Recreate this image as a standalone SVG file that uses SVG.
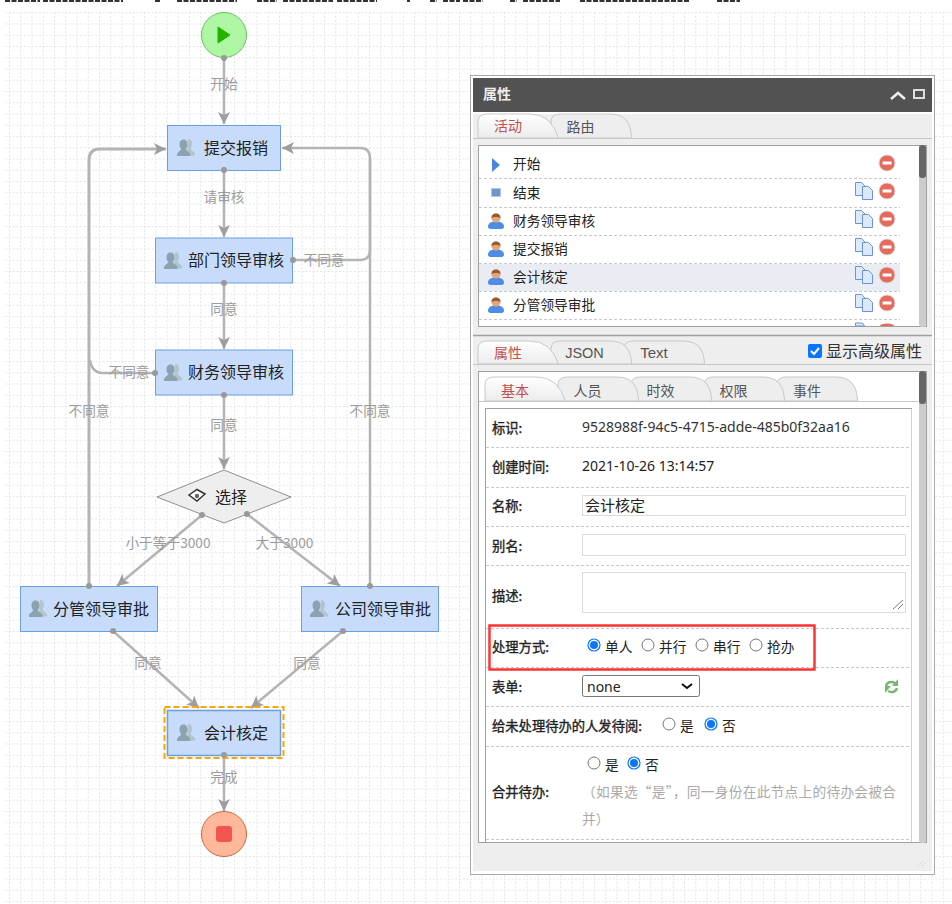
<svg xmlns="http://www.w3.org/2000/svg" width="952" height="904" viewBox="0 0 952 904">
<style>
text{font-family:"Liberation Sans","Noto Sans CJK SC",sans-serif;font-size:14px;fill:#222}
.cn{font-family:"Noto Sans CJK SC",sans-serif}
.node{fill:#c6dcfa;stroke:#6a9fe0;stroke-width:1}
.nt{font-size:16px;fill:#222;font-family:"Noto Sans CJK SC",sans-serif}
.el{font-size:13.7px;fill:#9c9c9c;font-family:"Noto Sans CJK SC",sans-serif;text-anchor:middle}
.conn{fill:none;stroke:#b4b4b4;stroke-width:2.5}
.dot{fill:#999}
.lab{font-size:13.3px;fill:#222;stroke:#222;stroke-width:.35;font-family:"Noto Sans CJK SC",sans-serif}
.li{font-size:13.7px;fill:#222;font-family:"Noto Sans CJK SC",sans-serif}
.sep{stroke:#c9c9c9;stroke-width:1;stroke-dasharray:3 2;fill:none}
.tab{fill:#eeeeee;stroke:#c8c8c8;stroke-width:1}
.tabA{fill:url(#tg);stroke:#c8c8c8;stroke-width:1}
.tt{font-size:14px;fill:#555;font-family:"Noto Sans CJK SC",sans-serif;text-anchor:middle}
.ta{font-size:14px;fill:#c0504d;font-family:"Noto Sans CJK SC",sans-serif;text-anchor:middle}
.inp{fill:#fff;stroke:#dcdcdc;stroke-width:1}
.r0{fill:#fff;stroke:#767676;stroke-width:1}
.r1{fill:#fff;stroke:#0a75ff;stroke-width:1.2}
.r2{fill:#0a75ff}
</style>
<defs>
<pattern id="grid" width="11.25" height="11.25" patternUnits="userSpaceOnUse" patternTransform="translate(9 1)">
<path d="M0 .5H11.25" stroke="#e4e4e4" stroke-width="1" stroke-dasharray="2 1.75"/>
<path d="M.5 0V11.25" stroke="#e4e4e4" stroke-width="1" stroke-dasharray="2 1.75"/>
</pattern>
<linearGradient id="tg" x1="0" y1="0" x2="0" y2="1"><stop offset="0" stop-color="#fff"/><stop offset="1" stop-color="#ececec"/></linearGradient>
<marker id="arr" markerUnits="userSpaceOnUse" markerWidth="13" markerHeight="13" refX="12" refY="6.500" orient="auto"><path d="M0 .5L12 6.500L0 12.500L3 6.500Z" fill="#9e9e9e"/></marker>
<g id="pp"><path d="M11 0c3 0 4 2 4 5 0 2-1 3.500-1.500 4.500 0 1.500 3.500 2.500 4.500 5v2H10z" fill="#b3c4cd"/><path d="M6.500 .5c3 0 4 2.500 4 5 0 2-1 3.500-1.700 4.500 0 1.500 3.700 2.500 4.700 5v2H0v-2c1-2.500 4.200-3.500 4.200-5C3.500 9 2.500 7.500 2.500 5.500c0-2.500 1-5 4-5z" fill="#8ba3af"/></g>
<g id="minus"><circle r="8" fill="#e66a5c" stroke="#dcd4d0" stroke-width="1"/><rect x="-4.500" y="-1.500" width="9" height="3" fill="#fff"/></g>
<g id="copy"><path d="M0 0h6l4 4v9H0z" fill="#dce9fb" stroke="#6a94d4"/><path d="M7 4h6l4 4v9H7z" fill="#dce9fb" stroke="#6a94d4"/></g>
<g id="user"><path d="M0 14c0-4 3-5.500 8-5.500s8 1.500 8 5.500c0 1.500-2 2-3 2H3c-1 0-3-.5-3-2z" fill="#4f8ce8"/><circle cx="8" cy="5" r="4.500" fill="#e0a878"/><path d="M3.500 5C3.500 1.500 6 .5 8 .5s4.500 1 4.500 4.500C11 3.500 5 3.500 3.500 5z" fill="#9a5a30"/></g>
</defs>
<rect width="952" height="904" fill="#fff"/>
<rect x="5" y="11" width="947" height="893" fill="url(#grid)"/>
<path id="clipped-line-remnant" d="M5 1H40M43 1H123M155 1H160M177 1H237M257 1H277M283 1H333M337 1H377M407 1H410M430 1H437M443 1H460M463 1H483M510 1H517M523 1H560M580 1H690M717 1H740" fill="none" stroke="#333" stroke-width="2" stroke-dasharray="5 1.500"/>

<g id="connectors">
<path class="conn" d="M224 58V124" marker-end="url(#arr)"/>
<path class="conn" d="M224 171V237" marker-end="url(#arr)"/>
<path class="conn" d="M224 283V349" marker-end="url(#arr)"/>
<path class="conn" d="M224 395V469" marker-end="url(#arr)"/>
<path class="conn" d="M293 260H360Q370 260 370 250V158Q370 148 360 148H282" marker-end="url(#arr)"/>
<path class="conn" d="M155 373H103Q92 373 90 360"/>
<path class="conn" style="stroke-width:3" d="M89 586V160Q89 149 100 149H166" marker-end="url(#arr)"/>
<path class="conn" d="M370 586V158"/>
<path class="conn" d="M202 515L117 586" marker-end="url(#arr)"/>
<path class="conn" d="M247 514L340 586" marker-end="url(#arr)"/>
<path class="conn" d="M113 631L199 708" marker-end="url(#arr)"/>
<path class="conn" d="M343 631L251 708" marker-end="url(#arr)"/>
<path class="conn" d="M224 755V811" marker-end="url(#arr)"/>
</g>

<g id="n-start"><circle cx="224" cy="35" r="22.500" fill="#aef5a4" stroke="#6cc063"/><path d="M218 27L230 35L218 43Z" fill="#24b300" stroke="#24b300"/></g>
<g id="n-submit"><rect class="node" x="167.500" y="125.500" width="113" height="45"/><use href="#pp" x="177" y="139"/><text class="nt" x="204" y="154">提交报销</text></g>
<g id="n-dept"><rect class="node" x="155.500" y="238" width="137" height="45"/><use href="#pp" x="164" y="252"/><text class="nt" x="188" y="266">部门领导审核</text></g>
<g id="n-fin"><rect class="node" x="155.500" y="350" width="137" height="45"/><use href="#pp" x="164" y="364"/><text class="nt" x="188" y="378">财务领导审核</text></g>
<g id="n-choice"><path d="M224 470L291 497L224 523L157 497Z" fill="#eeeeee" stroke="#8f8f8f"/><path d="M189 495L197 489.500L205 494L197 501Z" fill="#fff" stroke="#333" stroke-width="1.500"/><circle cx="197" cy="496" r="2.200" fill="#666"/><text class="nt" x="215" y="503">选择</text></g>
<g id="n-fg"><rect class="node" x="20.500" y="586.500" width="137" height="45"/><use href="#pp" x="29" y="600"/><text class="nt" x="53" y="615">分管领导审批</text></g>
<g id="n-gs"><rect class="node" x="301.500" y="586.500" width="137" height="45"/><use href="#pp" x="310" y="600"/><text class="nt" x="335" y="615">公司领导审批</text></g>
<g id="n-acc"><rect x="164.500" y="707" width="119" height="51" fill="none" stroke="#ffa500" stroke-width="2" stroke-dasharray="6 3"/><rect class="node" x="167.500" y="710.500" width="113" height="45" style="stroke-width:1.500"/><use href="#pp" x="177" y="724"/><text class="nt" x="204" y="739">会计核定</text></g>
<g id="n-end"><circle cx="224" cy="834" r="22.500" fill="#ffb899" stroke="#c8683c"/><rect x="216" y="826" width="16" height="16" rx="3" fill="#f2554f"/></g>

<g id="dots" class="dot">
<circle cx="224" cy="58" r="3"/><circle cx="224" cy="170" r="3"/><circle cx="224" cy="283" r="3"/><circle cx="224" cy="395" r="3"/><circle cx="293" cy="260" r="3"/><circle cx="155" cy="373" r="3"/><circle cx="89" cy="586" r="3"/><circle cx="370" cy="586" r="3"/><circle cx="202" cy="515" r="3"/><circle cx="247" cy="514" r="3"/><circle cx="113" cy="631" r="3"/><circle cx="343" cy="631" r="3"/><circle cx="224" cy="755" r="3"/>
</g>
<g id="edge-labels">
<text class="el" x="224" y="89">开始</text>
<text class="el" x="224" y="202">请审核</text>
<text class="el" x="324" y="265">不同意</text>
<text class="el" x="224" y="314">同意</text>
<text class="el" x="129" y="377">不同意</text>
<text class="el" x="89" y="416">不同意</text>
<text class="el" x="370" y="416">不同意</text>
<text class="el" x="224" y="430">同意</text>
<text class="el" x="168" y="548">小于等于3000</text>
<text class="el" x="284.500" y="548">大于3000</text>
<text class="el" x="148" y="668">同意</text>
<text class="el" x="307" y="668">同意</text>
<text class="el" x="224" y="782">完成</text>
</g>

<g id="panel">
<rect x="470.500" y="75.500" width="464" height="799" fill="#fff" stroke="#a8a8a8"/>
<rect x="473" y="78" width="459" height="793" fill="#eeeeee"/>
<rect x="473" y="78" width="459" height="34" fill="#525252"/>
<rect x="473" y="112" width="459" height="2" fill="#fff"/>
<text x="483" y="99" class="cn" style="font-size:14px;font-weight:700;fill:#eee">属性</text>
<path d="M891 99l7-6 7 6" fill="none" stroke="#eee" stroke-width="2.500"/>
<rect x="914" y="90" width="10" height="8" fill="none" stroke="#ddd" stroke-width="2"/>
<path d="M473 138.500H932" stroke="#c8c8c8" fill="none"/>
<path class="tab" d="M551 138V122Q551 114 560 114H610Q631 114 631.500 138Z"/>
<path class="tabA" d="M478 138V122Q478 114 487 114H530Q551 114 558.500 138Z"/>
<text class="ta" x="508" y="131">活动</text><text class="tt" x="580.500" y="132">路由</text>
<rect x="478.500" y="145.500" width="448" height="181" fill="#fff" stroke="#a0a0a0"/>
<rect x="479" y="264" width="421" height="27" fill="#e9ecf3"/>
<path class="sep" d="M479 178.500H900M479 207.500H900M479 235.500H900M479 263.500H900M479 291.500H900M479 319.500H900"/>
<path d="M492 158l8 7-8 7z" fill="#4a86e0"/><rect x="491.500" y="188.500" width="9" height="8" fill="#6d97cc" stroke="#b4c8e0"/>
<use href="#user" x="488" y="213"/><use href="#user" x="488" y="241"/><use href="#user" x="488" y="269"/><use href="#user" x="488" y="297"/>
<text class="li" x="513" y="169">开始</text><text class="li" x="513" y="198">结束</text><text class="li" x="513" y="226">财务领导审核</text><text class="li" x="513" y="254">提交报销</text><text class="li" x="513" y="282">会计核定</text><text class="li" x="513" y="310">分管领导审批</text>
<use href="#minus" x="887" y="163"/><use href="#minus" x="887" y="191"/><use href="#minus" x="887" y="219"/><use href="#minus" x="887" y="247"/><use href="#minus" x="887" y="275"/><use href="#minus" x="887" y="303"/>
<use href="#copy" x="855.500" y="182.500"/><use href="#copy" x="855.500" y="210.500"/><use href="#copy" x="855.500" y="238.500"/><use href="#copy" x="855.500" y="266.500"/><use href="#copy" x="855.500" y="294.500"/>
<path d="M855.500 326V323h7l2 3z" fill="#dce9fb" stroke="#6a94d4"/><path d="M880 326a7 2.500 0 0 1 14 0z" fill="#e66a5c"/>
<rect x="919" y="145" width="7" height="182" fill="#cccccc" rx="3"/><rect x="919" y="145" width="7" height="33" fill="#666" rx="3"/>
<path d="M473 335.500H932" stroke="#a0a0a0" stroke-width="1.500"/>
<path d="M473 364.500H932" stroke="#c8c8c8" fill="none"/>
<path class="tab" d="M624 364V349Q624 341 633 341H683Q704 341 704.500 364Z"/>
<path class="tab" d="M551 364V349Q551 341 560 341H610Q631 341 631.500 364Z"/>
<path class="tabA" d="M478 364V349Q478 341 487 341H530Q551 341 558.500 364Z"/>
<text class="ta" x="508" y="358">属性</text><text class="tt" x="584.500" y="358" style="font-family:'Liberation Sans';font-size:14.500px">JSON</text><text class="tt" x="654" y="358" style="font-family:'Liberation Sans';font-size:15px">Text</text>
<rect x="808" y="344" width="14" height="14" rx="2" fill="#0a75ff"/><path d="M811 351l3 3 5-6" fill="none" stroke="#fff" stroke-width="2"/>
<text x="826" y="357" class="cn" style="font-size:16px;fill:#333">显示高级属性</text>
<rect x="478.500" y="371.500" width="448" height="471" fill="#fff" stroke="#a0a0a0"/>
<path d="M479 401.500H918" stroke="#c8c8c8" fill="none"/>
<path class="tab" d="M777 401V385Q777 377 786 377H836Q857 377 857.500 401Z"/>
<path class="tab" d="M704 401V385Q704 377 713 377H763Q784 377 784.500 401Z"/>
<path class="tab" d="M631 401V385Q631 377 640 377H690Q711 377 711.500 401Z"/>
<path class="tab" d="M558 401V385Q558 377 567 377H617Q638 377 638.500 401Z"/>
<path class="tabA" d="M485 401V385Q485 377 494 377H537Q558 377 565.500 401Z"/>
<text class="ta" x="515" y="396">基本</text><text class="tt" x="587.500" y="396">人员</text><text class="tt" x="660.500" y="396">时效</text><text class="tt" x="733.500" y="396">权限</text><text class="tt" x="807" y="396">事件</text>
<rect x="485.500" y="408.500" width="426" height="434" fill="#fff" stroke="#a0a0a0"/>
<path d="M911.500 409V842" stroke="#d0d0d0"/>
<path class="sep" d="M486 447.500H911M486 487.500H911M486 526.500H911M486 565.500H911M486 628.500H911M486 667.500H911M486 706.500H911M486 746.500H911M486 839.500H911"/>
<rect x="919" y="371" width="7" height="472" fill="#cccccc" rx="3"/><rect x="919" y="371" width="7" height="33" fill="#666" rx="3"/>
<text class="lab" x="492" y="433">标识:</text>
<text x="582" y="432" style="font-family:'Noto Sans',sans-serif;font-size:14px;fill:#333">9528988f-94c5-4715-adde-485b0f32aa16</text>
<text class="lab" x="492" y="472">创建时间:</text>
<text x="582" y="471" style="font-family:'Noto Sans',sans-serif;font-size:14px;fill:#222">2021-10-26 13:14:57</text>
<text class="lab" x="492" y="511">名称:</text>
<rect class="inp" x="582.500" y="495.500" width="323" height="20"/><text class="li" x="585" y="511" style="font-size:15px">会计核定</text>
<text class="lab" x="492" y="551">别名:</text><rect class="inp" x="582.500" y="534.500" width="323" height="21"/>
<text class="lab" x="492" y="601">描述:</text><rect class="inp" x="582.500" y="572.500" width="323" height="40"/>
<path d="M893 609l10-9M898 609l5-5" stroke="#555" stroke-width=".8"/>
<text class="lab" x="492" y="652">处理方式:</text>
<circle class="r1" cx="594" cy="645" r="6"/><circle class="r2" cx="594" cy="645" r="4"/><text class="li" x="605" y="652">单人</text>
<circle class="r0" cx="648" cy="645" r="6"/><text class="li" x="659" y="652">并行</text>
<circle class="r0" cx="702" cy="645" r="6"/><text class="li" x="713" y="652">串行</text>
<circle class="r0" cx="756" cy="645" r="6"/><text class="li" x="767" y="652">抢办</text>
<rect x="489.500" y="625.500" width="325" height="44" fill="none" stroke="#ff3333" stroke-width="2.500"/>
<text class="lab" x="492" y="692">表单:</text>
<rect x="582.500" y="675.500" width="117" height="21" rx="2" fill="#fff" stroke="#767676"/><text x="587" y="692" style="font-family:'Noto Sans',sans-serif;font-size:14px;fill:#222">none</text>
<path d="M682 684l5 4 5-4" fill="none" stroke="#111" stroke-width="2"/>
<g id="refresh" fill="none" stroke="#79b573" stroke-width="2.500"><path d="M886 686c1-4 5-5 9-3"/><path d="M897 688c-1 4-5 5-9 3"/></g><path d="M898 679v7h-6zM885 693v-7h6z" fill="#79b573"/>
<text class="lab" x="492" y="731">给未处理待办的人发待阅:</text>
<circle class="r0" cx="669" cy="724" r="6"/><text class="li" x="680" y="731">是</text>
<circle class="r1" cx="711" cy="724" r="6"/><circle class="r2" cx="711" cy="724" r="4"/><text class="li" x="722" y="731">否</text>
<circle class="r0" cx="594" cy="763" r="6"/><text class="li" x="605" y="770">是</text>
<circle class="r1" cx="634" cy="763" r="6"/><circle class="r2" cx="634" cy="763" r="4"/><text class="li" x="645" y="770">否</text>
<text class="lab" x="492" y="797">合并待办:</text>
<text class="li" x="582" y="797" style="fill:#aaa" textLength="314" lengthAdjust="spacing">（如果选“是”，同一身份在此节点上的待办会被合</text>
<text class="li" x="582" y="824" style="fill:#aaa">并）</text>
<path d="M918 866l6-6M922 866l3-3" stroke="#ccc" stroke-dasharray="1.500 1.500"/>
</g>
</svg>
